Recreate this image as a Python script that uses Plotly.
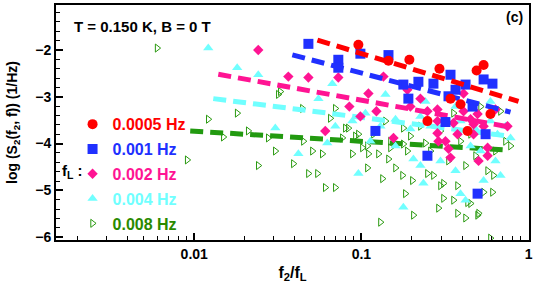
import numpy as np
import plotly.graph_objects as go

# ---------------- data (x stored as log10(f2/fL), y = log S2) ----------------
series_names = ["0.0005 Hz", "0.001 Hz", "0.002 Hz", "0.004 Hz", "0.008 Hz"]
series_colors = ["#ff0000", "#2030ff", "#ff1493", "#70ffff", "#2a9a10"]

red_lx = [-1.018, -0.838, -0.713, -0.533, -0.311, -0.269, -0.467, -0.407, -0.228, -0.605, -0.365]
red_y = [-1.89, -2.23, -2.21, -2.40, -2.44, -2.32, -3.04, -3.16, -3.37, -3.52, -3.73]

blue_lx = [-1.317, -1.138, -1.138, -1.006, -0.838, -0.749, -0.719, -0.659, -0.569, -0.467, -0.437,
           -0.479, -0.377, -0.335, -0.269, -0.216, -0.497, -0.257, -0.916, -0.605, -0.305]
blue_y = [-1.87, -2.21, -2.38, -2.08, -2.11, -2.74, -3.04, -2.68, -2.72, -2.53, -2.85,
          -2.99, -2.74, -3.21, -2.63, -2.72, -3.54, -3.80, -3.73, -4.26, -5.07]

mag_lx = [-1.617, -1.437, -1.317, -1.138, -0.958, -0.868, -1.072, -0.910, -1.006, -1.216, -0.808,
          -0.725, -0.647, -0.707, -0.605, -0.545, -0.545, -0.389, -0.389, -0.347, -0.305, -0.198,
          -0.269, -0.449, -0.329, -0.126, -0.545, -0.539, -0.479, -0.467, -0.299, -0.245, -0.425,
          -0.329, -0.497, -0.245]
mag_y = [-2.00, -2.57, -2.59, -2.59, -2.93, -2.57, -3.21, -3.31, -3.42, -3.73, -3.88,
         -2.85, -3.04, -3.21, -3.31, -3.27, -3.52, -2.93, -3.31, -3.48, -3.37, -3.27,
         -3.63, -3.56, -3.59, -3.63, -3.78, -3.95, -4.11, -4.30, -4.37, -4.26, -3.80,
         -3.80, -3.95, -4.09]

cyan_lx = [-1.916, -1.743, -1.617, -1.174, -1.257, -1.515, -0.856, -1.377, -1.018, -0.749, -0.689,
           -0.629, -0.407, -0.377, -0.269, -0.108, -0.186, -1.204, -1.054, -0.976, -0.886, -0.796,
           -0.707, -0.647, -0.587, -0.497, -0.407, -0.317, -0.228, -0.138, -0.347, -0.287, -0.527,
           -0.437, -0.198, -1.156, -0.946, -0.796, -0.647, -0.168, -0.617, -0.437, -0.228]
cyan_y = [-1.96, -2.38, -2.53, -2.72, -3.04, -3.67, -2.95, -4.22, -4.64, -5.36, -4.33,
          -4.85, -5.07, -5.21, -4.79, -3.88, -3.80, -3.99, -3.52, -3.35, -3.63, -3.48,
          -3.69, -3.42, -3.63, -3.48, -3.52, -3.69, -3.52, -3.63, -4.05, -4.16, -4.37,
          -4.58, -4.37, -3.63, -3.95, -4.05, -4.47, -4.68, -3.10, -3.21, -3.10]

green_lx = [-2.222, -1.916, -1.743, -1.677, -1.826, -1.557, -2.042, -1.617, -1.497, -1.515, -1.407,
            -1.347, -1.293, -1.234, -1.317, -1.263, -1.216, -1.156, -1.054, -0.958, -0.898, -0.964,
            -0.874, -0.886, -0.838, -0.796, -0.754, -1.096, -1.036, -0.994, -0.826, -0.725, -0.737,
            -0.689, -0.605, -0.569, -0.509, -0.449, -0.539, -0.425, -0.377, -0.299, -0.347, -0.269,
            -0.216, -0.228, -0.509, -0.707, -0.749, -0.617, -0.695, -0.527, -0.479, -0.425, -0.245,
            -0.210, -0.365, -0.305, -1.485, -1.353, -1.156, -1.186, -1.078, -1.018, -0.928, -0.856,
            -0.749, -1.114, -0.964, -0.826, -0.449, -0.347, -0.138, -0.168, -0.287, -0.407, -0.647,
            -0.527, -0.198, -0.108, -0.317, -0.377, -0.587]
green_y = [-1.96, -3.48, -3.35, -3.73, -3.86, -3.88, -4.35, -4.47, -2.95, -4.16, -4.43,
           -3.95, -4.16, -4.22, -4.64, -4.64, -4.94, -4.94, -4.22, -4.22, -4.22, -4.52,
           -4.75, -5.68, -4.33, -4.52, -4.68, -3.67, -3.84, -4.09, -4.09, -4.16, -5.07,
           -5.53, -4.64, -4.68, -4.85, -5.21, -5.38, -5.49, -5.59, -5.49, -5.28, -5.04,
           -5.04, -6.02, -5.17, -3.84, -4.01, -3.99, -4.79, -4.90, -4.37, -4.90, -4.58,
           -4.68, -5.26, -5.53, -2.89, -3.25, -3.25, -3.46, -3.67, -3.80, -3.80, -3.52,
           -3.67, -3.88, -4.05, -3.95, -3.35, -3.80, -3.95, -3.31, -3.21, -3.95, -3.63,
           -3.73, -4.16, -4.05, -4.26, -4.47, -4.16]

# power-law fit lines: (log10 start, log10 end, y start, y end), order red..green
fit_lx0 = [-1.263, -1.413, -1.856, -1.886, -2.024]
fit_lx1 = [-0.060, -0.108, -0.108, -0.120, -0.150]
fit_y0 = [-1.79, -2.106, -2.52, -3.04, -3.73]
fit_y1 = [-3.10, -3.33, -3.65, -3.84, -4.135]

x_ticks = [0.01, 0.1, 1]
x_ticktext = ["0.01", "0.1", "1"]
y_ticks = [-6, -5, -4, -3, -2]

pts = [(red_lx, red_y), (blue_lx, blue_y), (mag_lx, mag_y), (cyan_lx, cyan_y), (green_lx, green_y)]
symbols = ["circle", "square", "diamond", "triangle-up", "triangle-right-open"]
sizes = [10, 10, 8, 9, 7]

FONT = "Arial, Liberation Sans, sans-serif"
fig = go.Figure()

# draw from green (bottom) up to red (top)
for i in [4, 3, 2, 1, 0]:
    lx, yy = pts[i]
    col = series_colors[i]
    if i == 4:
        marker = dict(symbol=symbols[i], size=sizes[i], color=col,
                      line=dict(color="#3aaa30", width=1))
    else:
        marker = dict(symbol=symbols[i], size=sizes[i], color=col, line=dict(width=0))
    fig.add_trace(go.Scatter(
        x=10 ** np.array(lx), y=yy, mode="markers", marker=marker,
        name='<span style="color:%s">%s</span>' % (col if i != 4 else "#2a8a00", series_names[i]),
        legendgroup="g%d" % i, legendrank=i + 1, showlegend=True))
    fig.add_trace(go.Scatter(
        x=[10 ** fit_lx0[i], 10 ** fit_lx1[i]], y=[fit_y0[i], fit_y1[i]], mode="lines",
        line=dict(color=col if i != 4 else "#229a10", width=5, dash="13px,7px"),
        showlegend=False, hoverinfo="skip", legendgroup="g%d" % i))

axis_common = dict(showline=True, linecolor="black", linewidth=2, mirror=True,
                   showgrid=False, zeroline=False, ticks="inside", tickcolor="black",
                   tickfont=dict(family=FONT, size=14, color="black", weight="bold"))

fig.update_xaxes(type="log", range=[np.log10(0.00149), np.log10(1.006)],
                 tickvals=x_ticks, ticktext=x_ticktext, ticklen=7, tickwidth=1.5,
                 minor=dict(dtick="D1", ticks="inside", ticklen=4, tickcolor="black", tickwidth=1),
                 title=dict(text="f<sub>2</sub>/f<sub>L</sub>", standoff=6,
                            font=dict(family=FONT, size=16, color="black", weight="bold")),
                 **axis_common)
fig.update_yaxes(range=[-6.06, -1.04], tickvals=y_ticks, ticklen=7, tickwidth=1.5,
                 minor=dict(dtick=0.2, ticks="inside", ticklen=4, tickcolor="black", tickwidth=1),
                 title=dict(text="log (S<sub>2</sub>(f<sub>2</sub>, f)) (1/Hz)", standoff=14,
                            font=dict(family=FONT, size=14, color="black", weight="bold")),
                 **axis_common)

fig.add_annotation(xref="paper", yref="paper", x=0.034, y=0.907, xanchor="left", yanchor="middle",
                   text="T = 0.150 K, B = 0 T", showarrow=False,
                   font=dict(family=FONT, size=15, color="black", weight="bold"))
fig.add_annotation(xref="paper", yref="paper", x=0.992, y=0.95, xanchor="right", yanchor="middle",
                   text="(c)", showarrow=False,
                   font=dict(family=FONT, size=14, color="black", weight="bold"))
fig.add_annotation(xref="paper", yref="paper", x=0.008, y=0.29, xanchor="left", yanchor="middle",
                   text="f<sub>L</sub> :", showarrow=False,
                   font=dict(family=FONT, size=15, color="black", weight="bold"))

fig.update_layout(
    width=540, height=300,
    margin=dict(l=56, r=11, t=3, b=60),
    paper_bgcolor="white", plot_bgcolor="white",
    legend=dict(x=0.035, y=0.565, xanchor="left", yanchor="top", bgcolor="rgba(0,0,0,0)",
                font=dict(family=FONT, size=16, weight="bold"), tracegroupgap=1,
                itemsizing="trace"),
    showlegend=True,
)

fig.write_html("out.html", config={"displayModeBar": False},
               post_script="document.body.style.margin='0';")
